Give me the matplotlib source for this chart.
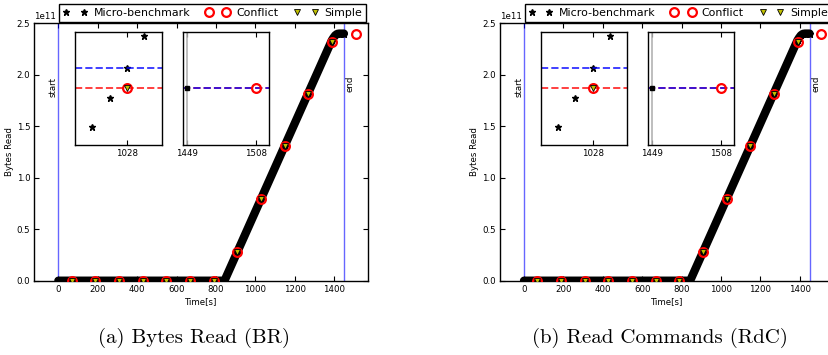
"""Micro-benchmark vs Conflict/Simple bytes-read traces, two panels with zoom insets."""

import matplotlib
matplotlib.use("Agg")
import matplotlib.pyplot as plt

# micro-benchmark trace (break points)
MICRO_T = [0, 843, 1388, 1396, 1405, 1415, 1425, 1449]
MICRO_V = [0.0, 0.0, 2.336e11, 2.36e11, 2.383e11, 2.397e11, 2.40e11, 2.40e11]

# micro-benchmark samples visible in the first inset
MICRO_ZOOM_T = [1026, 1027, 1028, 1029]
MICRO_ZOOM_V = [7.845e10, 7.887e10, 7.929e10, 7.974e10]
MICRO_END_V = 2.40e11

CONFLICT_T = [68, 188, 308, 428, 548, 668, 788, 908, 1028, 1148, 1268, 1388, 1508]
CONFLICT_V = [0, 0, 0, 0, 0, 0, 0, 0.28e11, 0.79e11, 1.31e11, 1.815e11, 2.318e11, 2.40e11]

SIMPLE_T = [68, 188, 308, 428, 548, 668, 788, 908, 1028, 1148, 1268, 1388]
SIMPLE_V = [0, 0, 0, 0, 0, 0, 0, 0.28e11, 0.79e11, 1.31e11, 1.815e11, 2.318e11]

START_T = 0
END_T = 1449
ZOOM_T = 1028
LAST_T = 1508

CAPTIONS = ["(a) Bytes Read (BR)", "(b) Read Commands (RdC)"]
YLABEL = "Bytes Read"
XLABEL = "Time[s]"

SMALL = 6.2
CONF_STYLE = dict(ls="none", marker="o", ms=6.3, mfc="none", mec="red", mew=1.6)
SIMPLE_STYLE = dict(ls="none", marker="v", ms=4.5, mfc="y", mec="k", mew=0.6)


def style_ticks(ax):
    ax.tick_params(direction="in", top=True, right=True, length=3.5, width=0.8,
                   labelsize=SMALL, pad=3)
    for sp in ax.spines.values():
        sp.set_linewidth(1.0)


def draw_insets(ax):
    half = 8.0e8
    conf_zoom = CONFLICT_V[CONFLICT_T.index(ZOOM_T)]
    conf_last = CONFLICT_V[CONFLICT_T.index(LAST_T)]

    in1 = ax.inset_axes([0.122, 0.527, 0.26, 0.44])
    in1.plot(MICRO_ZOOM_T, MICRO_ZOOM_V, ls="none", marker="*", color="k", ms=4.5)
    in1.axhline(MICRO_ZOOM_V[MICRO_ZOOM_T.index(ZOOM_T)], color="b", ls="--", lw=1.4, alpha=0.75)
    in1.axhline(conf_zoom, color="r", ls="--", lw=1.4, alpha=0.75)
    in1.plot([ZOOM_T], [conf_zoom], **CONF_STYLE)
    in1.plot([ZOOM_T], [SIMPLE_V[SIMPLE_T.index(ZOOM_T)]], **SIMPLE_STYLE)
    in1.set_xlim(1025, 1030)
    in1.set_ylim(conf_zoom - half, conf_zoom + half)
    in1.set_xticks([ZOOM_T])
    in1.set_yticks([])
    style_ticks(in1)

    in2 = ax.inset_axes([0.445, 0.527, 0.258, 0.44])
    in2.axvline(END_T, color="0.7", lw=1.2)
    in2.axhline(conf_last, color="r", ls="--", lw=1.4, alpha=0.75)
    in2.axhline(MICRO_END_V, color="b", ls="--", lw=1.4, alpha=0.75)
    in2.plot([END_T], [MICRO_END_V], ls="none", marker="s", color="k", ms=3.5)
    in2.plot([LAST_T], [conf_last], **CONF_STYLE)
    in2.set_xlim(1445.6, 1519)
    in2.set_ylim(conf_last - half, conf_last + half)
    in2.set_xticks([END_T, LAST_T])
    in2.set_yticks([])
    style_ticks(in2)


def draw_panel(ax):
    ax.axvline(START_T, color="b", lw=1.0, alpha=0.6)
    ax.axvline(END_T, color="b", lw=1.0, alpha=0.6)
    ax.text(START_T - 3, 1.884e11, "start", rotation=90, ha="right", va="center", fontsize=SMALL)
    ax.text(END_T + 8, 1.91e11, "end", rotation=90, ha="left", va="center", fontsize=SMALL)

    ax.plot(MICRO_T, MICRO_V, color="k", lw=6.0, solid_capstyle="round",
            solid_joinstyle="round", zorder=3)
    ax.plot(MICRO_T, MICRO_V, ls="none", marker="*", color="k", ms=5,
            label="Micro-benchmark", zorder=3)
    ax.plot(CONFLICT_T, CONFLICT_V, label="Conflict", zorder=4, **CONF_STYLE)
    ax.plot(SIMPLE_T, SIMPLE_V, label="Simple", zorder=5, **SIMPLE_STYLE)

    ax.set_xlim(-122, 1570)
    ax.set_ylim(0, 2.5e11)
    ax.set_xticks(range(0, 1401, 200))
    ax.set_yticks([0, 0.5e11, 1.0e11, 1.5e11, 2.0e11, 2.5e11])
    ax.yaxis.get_offset_text().set_fontsize(SMALL)
    ax.set_xlabel(XLABEL, fontsize=SMALL, labelpad=2)
    ax.set_ylabel(YLABEL, fontsize=SMALL, labelpad=2)
    style_ticks(ax)

    leg = ax.legend(loc="lower right", bbox_to_anchor=(1.0, 1.0), ncol=3, numpoints=2,
                    fontsize=7.9, fancybox=False, edgecolor="k", framealpha=1,
                    borderpad=0.35, borderaxespad=0.15, handlelength=2.2,
                    handletextpad=0.6, columnspacing=1.4)
    leg.get_frame().set_linewidth(1.0)

    draw_insets(ax)


fig = plt.figure(figsize=(8.29, 3.55), dpi=100)
axes = [fig.add_axes([0.0414, 0.2093, 0.4022, 0.7251]),
        fig.add_axes([0.6031, 0.2093, 0.4022, 0.7251])]

for ax, caption in zip(axes, CAPTIONS):
    draw_panel(ax)
    box = ax.get_position()
    fig.text(box.x0 + 0.4022 * 0.48, 0.047, caption, ha="center", va="center",
             fontsize=15, family="cmr10")

fig.savefig("out.png", dpi=100)
